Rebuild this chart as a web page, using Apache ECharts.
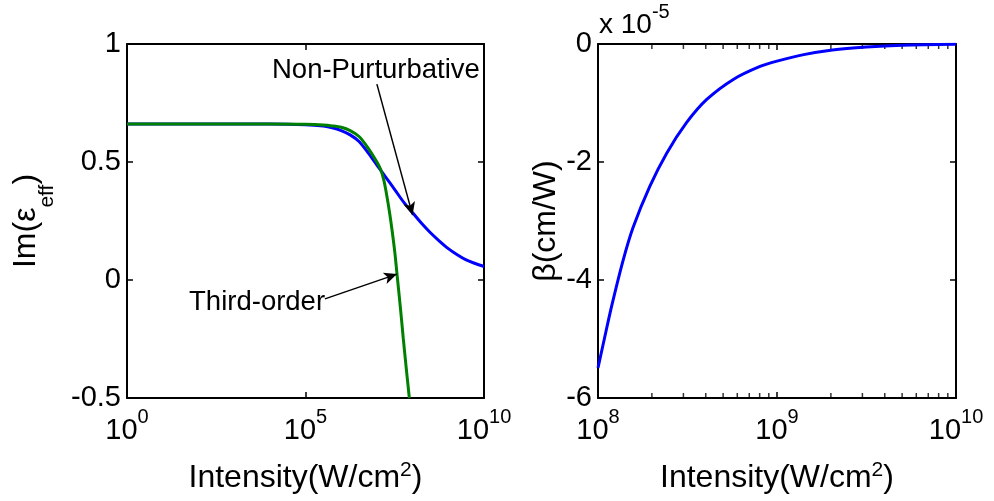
<!DOCTYPE html>
<html>
<head>
<meta charset="utf-8">
<script src="https://cdn.jsdelivr.net/npm/echarts@6/dist/echarts.min.js"></script>
<style>
html,body{margin:0;padding:0;background:#fff;}
#chart{width:994px;height:501px;}
</style>
</head>
<body>
<div id="chart"></div>
<script>
// ---- Left panel data: Im(eps_eff) vs intensity (W/cm^2) ----
const npIntensity = [1, 1e4, 1e5, 3.16e5, 5.62e5, 1e6, 1.78e6, 3.16e6, 5.62e6, 1e7, 1.78e7, 3.16e7, 5.62e7, 1e8, 1.78e8, 3.16e8, 5.62e8, 1e9, 1.78e9, 3.16e9, 5.62e9, 1e10];
const nonPerturbative = [0.661, 0.661, 0.658, 0.652, 0.645, 0.633, 0.615, 0.587, 0.54, 0.487, 0.435, 0.383, 0.33, 0.285, 0.24, 0.2, 0.165, 0.133, 0.107, 0.085, 0.07, 0.057];
const toIntensity = [1, 1e4, 1e5, 3.16e5, 5.62e5, 1e6, 1.78e6, 3.16e6, 5.62e6, 1e7, 1.26e7, 1.58e7, 1.9e7, 2.24e7, 2.63e7, 3.16e7, 3.8e7, 4.57e7, 5.5e7, 6.6e7, 8.1e7];
const thirdOrder = [0.661, 0.661, 0.66, 0.657, 0.653, 0.647, 0.633, 0.608, 0.56, 0.5, 0.47, 0.42, 0.356, 0.29, 0.216, 0.12, 0.0, -0.12, -0.25, -0.37, -0.5];

// ---- Right panel data: beta (x 1e-5 cm/W) vs intensity ----
const betaIntensity = [1e8, 1.09e8, 1.19e8, 1.38e8, 1.57e8, 1.95e8, 2.42e8, 3.13e8, 4.05e8, 5.7e8, 8.04e8, 1e9, 1.41e9, 2.04e9, 3.16e9, 5e9, 1e10];
const betaValues = [-5.49, -4.97, -4.45, -3.67, -3.11, -2.41, -1.85, -1.33, -0.94, -0.6, -0.38, -0.29, -0.18, -0.1, -0.05, -0.02, -0.005];
const betaMinorTicks = [2e8, 3e8, 4e8, 5e8, 6e8, 7e8, 8e8, 9e8, 2e9, 3e9, 4e9, 5e9, 6e9, 7e9, 8e9, 9e9];

// ---- Axis ranges / ticks ----
const leftX = {min: 1, max: 1e10, interval: 5};
const leftY = {min: -0.5, max: 1, interval: 0.5};
const rightX = {min: 1e8, max: 1e10, interval: 1};
const rightY = {min: -6, max: 0, interval: 2};

// ---- Annotations ----
const npLabel = {text: 'Non-Purturbative', at: [9.4e6, 0.89]};
const npArrow = {from: [1.0e7, 0.83], to: [1.0e8, 0.275]};
const toLabel = {text: 'Third-order', at: [4.4e3, -0.095]};
const toArrow = {from: [3.5e5, -0.08], to: [3.65e7, 0.025]};

const FONT = '"Liberation Sans", Arial, Helvetica, sans-serif';
const zip = (xs, ys) => xs.map((x, i) => [x, ys[i]]);

const tickRich = {
  b: {fontSize: 29, fontFamily: FONT, color: '#000', lineHeight: 48},
  s: {fontSize: 20, fontFamily: FONT, color: '#000', lineHeight: 20, verticalAlign: 'top'}
};
const powLabel = v => '{b|10}{s|' + Math.round(Math.log10(v)) + '}';

const titleRich = {
  m: {fontSize: 32, fontFamily: FONT, color: '#000', lineHeight: 36},
  sup: {fontSize: 21, fontFamily: FONT, color: '#000', lineHeight: 22, verticalAlign: 'top'}
};
const yTitleRich = {
  m: {fontSize: 32, fontFamily: FONT, color: '#000', lineHeight: 64},
  sub: {fontSize: 21, fontFamily: FONT, color: '#000', lineHeight: 22, verticalAlign: 'bottom'}
};

const axisLine = {show: true, onZero: false, lineStyle: {color: '#000', width: 2}};
const tick = {show: true, inside: true, length: 6, lineStyle: {color: '#000', width: 1.5}};

function xAxes(grid, r) {
  const main = {
    type: 'log', logBase: 10, gridIndex: grid, position: 'bottom',
    min: r.min, max: r.max, interval: r.interval,
    axisLine, axisTick: tick, splitLine: {show: false},
    axisLabel: {formatter: powLabel, rich: tickRich, margin: 9, color: '#000'},
    name: '{m|Intensity(W/cm}{sup|2}{m|)}', nameLocation: 'middle', nameGap: 62,
    nameTextStyle: {rich: titleRich}
  };
  const top = {
    type: 'log', logBase: 10, gridIndex: grid, position: 'top',
    min: r.min, max: r.max, interval: r.interval,
    axisLine, axisTick: tick, axisLabel: {show: false}, splitLine: {show: false}
  };
  return [main, top];
}
function yAxes(grid, r, name, gap, rich) {
  const main = {
    type: 'value', gridIndex: grid, position: 'left',
    min: r.min, max: r.max, interval: r.interval,
    axisLine, axisTick: tick, splitLine: {show: false},
    axisLabel: {fontSize: 29, fontFamily: FONT, color: '#000', margin: 6},
    name: name, nameLocation: 'middle', nameRotate: 90, nameGap: gap,
    nameTextStyle: {rich: rich}
  };
  const right = {
    type: 'value', gridIndex: grid, position: 'right',
    min: r.min, max: r.max, interval: r.interval,
    axisLine, axisTick: tick, axisLabel: {show: false}, splitLine: {show: false}
  };
  return [main, right];
}

const arrowLine = (a) => ({
  silent: true, animation: false, symbol: ['none', 'arrow'], symbolSize: [9, 13],
  label: {show: false},
  lineStyle: {color: '#000', width: 1.5, type: 'solid'},
  data: [[{coord: a.from}, {coord: a.to}]]
});
const textPoint = (t) => ({
  silent: true, animation: false, symbol: 'circle', symbolSize: 0,
  itemStyle: {color: 'rgba(0,0,0,0)'},
  label: {show: true, position: 'inside', formatter: t.text, color: '#000', fontSize: 27.5, fontFamily: FONT},
  data: [{coord: t.at}]
});

const chart = echarts.init(document.getElementById('chart'), null, {renderer: 'canvas'});
chart.setOption({
  animation: false,
  backgroundColor: '#fff',
  textStyle: {fontFamily: FONT},
  title: {
    text: '{a|x 10}{s|-5}', left: 599, top: 2, padding: 0,
    textStyle: {fontWeight: 'normal', rich: {
      a: {fontSize: 28, fontFamily: FONT, color: '#000', lineHeight: 46, fontWeight: 'normal'},
      s: {fontSize: 20, fontFamily: FONT, color: '#000', lineHeight: 20, verticalAlign: 'top', fontWeight: 'normal'}
    }}
  },
  grid: [
    {left: 127, top: 44, width: 357, height: 354},
    {left: 598, top: 44, width: 358, height: 354}
  ],
  xAxis: [...xAxes(0, leftX), ...xAxes(1, rightX)],
  yAxis: [
    ...yAxes(0, leftY, '{m|Im(ε}{sub|eff}{m|)}', 69, yTitleRich),
    ...yAxes(1, rightY, '{m|β(cm/W)}', 31, titleRich)
  ],
  series: [
    {
      type: 'line', xAxisIndex: 0, yAxisIndex: 0, data: zip(npIntensity, nonPerturbative),
      showSymbol: false, smooth: 0.3, lineStyle: {color: '#0000ff', width: 3}, itemStyle: {color: '#0000ff'},
      markLine: arrowLine(npArrow), markPoint: textPoint(npLabel)
    },
    {
      type: 'line', xAxisIndex: 0, yAxisIndex: 0, data: zip(toIntensity, thirdOrder),
      showSymbol: false, smooth: 0.3, lineStyle: {color: '#008000', width: 3}, itemStyle: {color: '#008000'},
      markLine: arrowLine(toArrow), markPoint: textPoint(toLabel)
    },
    {
      type: 'line', xAxisIndex: 2, yAxisIndex: 2, data: zip(betaIntensity, betaValues),
      showSymbol: false, smooth: 0.3, lineStyle: {color: '#0000ff', width: 3}, itemStyle: {color: '#0000ff'}
    },
    {
      type: 'scatter', xAxisIndex: 2, yAxisIndex: 2, clip: false, silent: true,
      data: betaMinorTicks.map(v => [v, rightY.min]),
      symbol: 'rect', symbolSize: [1.5, 5], symbolOffset: [0, -2.5], itemStyle: {color: '#000'}
    },
    {
      type: 'scatter', xAxisIndex: 2, yAxisIndex: 2, clip: false, silent: true,
      data: betaMinorTicks.map(v => [v, rightY.max]),
      symbol: 'rect', symbolSize: [1.5, 5], symbolOffset: [0, 2.5], itemStyle: {color: '#000'}
    }
  ]
});
</script>
</body>
</html>
